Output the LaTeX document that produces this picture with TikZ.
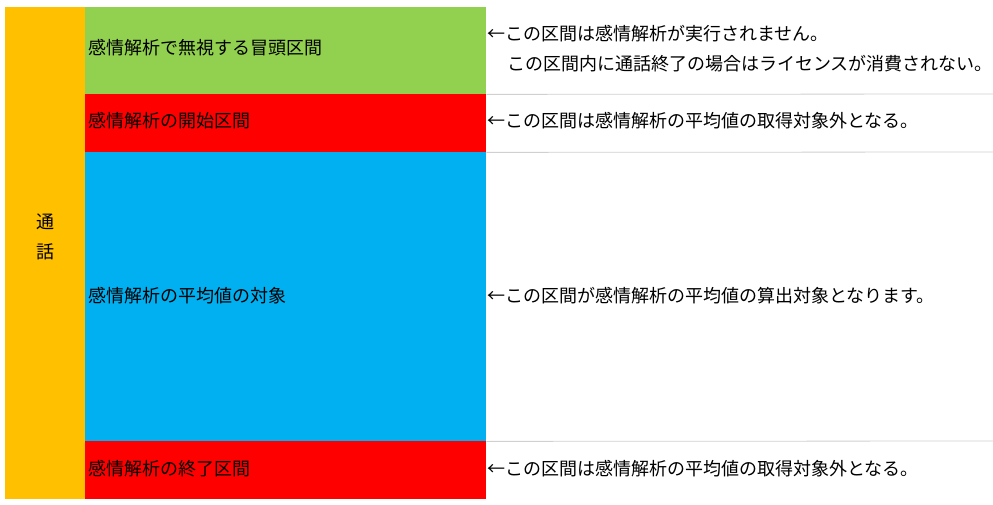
\documentclass[tikz,border=0pt]{standalone}
\usepackage{fontspec}
\setmainfont{Noto Sans CJK JP}
\def\BandLeft{85}
\def\BandRight{486}
\def\PageRight{993}
\def\LabelSize{18}
\definecolor{callorange}{RGB}{255,192,0}
\definecolor{skipgreen}{RGB}{146,208,80}
\definecolor{edgered}{RGB}{255,0,0}
\definecolor{avgblue}{RGB}{0,176,240}
\definecolor{rulegray}{RGB}{208,208,208}
\tikzset{
    band/.style={fill=#1, draw=none, inner sep=0pt, anchor=north west,
        minimum width=401pt},
    bandlabel/.style={anchor=west, inner sep=0pt, font=\fontsize{\LabelSize}{22}\selectfont},
    note/.style={anchor=west, inner sep=0pt, align=left,
        font=\fontsize{\LabelSize}{30}\selectfont},
    sep/.style={draw=rulegray, line width=0.8pt}
}
\begin{document}
\begin{tikzpicture}[x=1pt,y=-1pt]

% Page background
\useasboundingbox (0,0) rectangle (993,505);
\fill[white] (0,0) rectangle (993,505);

% =====================================================
% CALL COLUMN
% =====================================================
\node[fill=callorange, inner sep=0pt, anchor=north west,
    minimum width=80pt, minimum height=492pt] (call) at (5,7) {};
\node[align=center, font=\fontsize{\LabelSize}{30}\selectfont] (calltext) at (45,237) {通\\話};

% =====================================================
% SECTION BANDS
% =====================================================
\node[band=skipgreen, minimum height=87pt] (skip) at (\BandLeft,7) {};
\node[band=edgered, minimum height=58pt] (start) at (\BandLeft,94) {};
\node[band=avgblue, minimum height=289pt] (avg) at (\BandLeft,152) {};
\node[band=edgered, minimum height=58pt] (finish) at (\BandLeft,441) {};

\node[bandlabel] at (88,48) {感情解析で無視する冒頭区間};
\node[bandlabel] at (88,121) {感情解析の開始区間};
\node[bandlabel] at (88,296) {感情解析の平均値の対象};
\node[bandlabel] at (88,469) {感情解析の終了区間};

% Separators on the right side
\coordinate (sepA) at (\PageRight,94);
\coordinate (sepB) at (\PageRight,152);
\coordinate (sepC) at (\PageRight,441);
\draw[sep] (skip.south east) -- (sepA);
\draw[sep] (start.south east) -- (sepB);
\draw[sep] (avg.south east) -- (sepC);

% =====================================================
% NOTES
% =====================================================
\node[note] at (487,49) {←この区間は感情解析が実行されません。\\
\hspace*{1.1em}この区間内に通話終了の場合はライセンスが消費されない。};
\node[note] at (487,121) {←この区間は感情解析の平均値の取得対象外となる。};
\node[note] at (487,296) {←この区間が感情解析の平均値の算出対象となります。};
\node[note] at (487,469) {←この区間は感情解析の平均値の取得対象外となる。};

\end{tikzpicture}
\end{document}
